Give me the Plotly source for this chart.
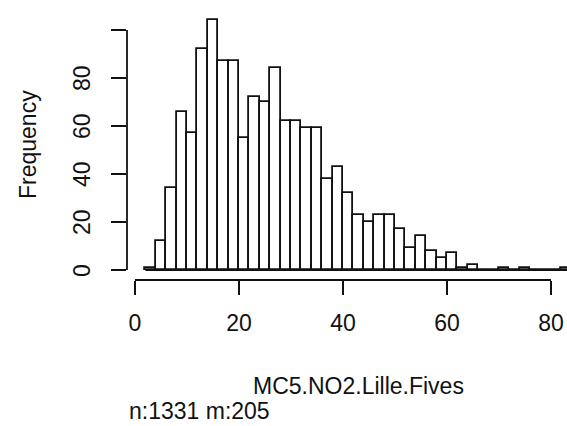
import plotly.graph_objects as go

# Histogram of NO2 concentrations, 2-unit bins
bin_lefts = [2, 4, 6, 8, 10, 12, 14, 16, 18, 20, 22, 24, 26, 28, 30, 32, 34, 36, 38, 40,
             42, 44, 46, 48, 50, 52, 54, 56, 58, 60, 62, 64, 66, 68, 70, 72, 74, 76, 78, 80, 82]
counts = [1, 12, 34, 66, 57, 92, 104, 87, 87, 55, 72, 70, 84, 62, 62, 59, 59, 38, 43, 32,
          23, 20, 23, 23, 17, 9, 14, 8, 5, 7, 1, 2, 0, 0, 1, 0, 1, 0, 0, 0, 1]
bin_width = 2

x_ticks = [0, 20, 40, 60, 80]
y_ticks = [0, 20, 40, 60, 80, 100]
y_labels = ["0", "20", "40", "60", "80"]   # the top tick carries no label

x_title = "MC5.NO2.Lille.Fives"
y_title = "Frequency"
sub_text = "n:1331 m:205"

FONT = "Liberation Sans, Arial, sans-serif"
INK = "#111111"
LW = 1.8
FS = 23

centers = [b + bin_width / 2 for b in bin_lefts]

fig = go.Figure()
fig.add_trace(go.Bar(
    x=centers, y=counts, width=[bin_width] * len(counts),
    marker=dict(color="white", line=dict(color=INK, width=LW)),
    hoverinfo="x+y", showlegend=False,
))
# empty bins still show as a flat line along zero
fig.add_trace(go.Scatter(
    x=[bin_lefts[0], bin_lefts[-1] + bin_width], y=[0, 0], mode="lines",
    line=dict(color=INK, width=LW), hoverinfo="skip", showlegend=False,
))

# vertical (rotated) y tick labels, placed on the y scale
y_label_annots = [
    dict(text=lab, xref="paper", yref="y", x=-0.1023, y=val, xanchor="center",
         yanchor="middle", textangle=-90, showarrow=False, font=dict(size=FS))
    for val, lab in zip(y_ticks, y_labels)
]

fig.update_layout(
    width=567, height=426,
    margin=dict(l=127, r=0, t=10, b=146),
    paper_bgcolor="white", plot_bgcolor="white",
    font=dict(family=FONT, size=FS, color=INK),
    bargap=0,
    xaxis=dict(
        range=[-1.538, 83.077], tickvals=x_ticks, ticks="outside", ticklen=14,
        tickwidth=LW, tickcolor=INK, showgrid=False, zeroline=False, showline=False,
        tickfont=dict(size=FS), ticklabelstandoff=8, automargin=False,
    ),
    yaxis=dict(
        range=[-4.167, 108.33], tickvals=y_ticks, ticks="outside",
        ticklen=15, tickwidth=LW, tickcolor=INK, showgrid=False, zeroline=False,
        showline=False, showticklabels=False, automargin=False,
    ),
    shapes=[
        dict(type="line", xref="x", yref="paper", x0=x_ticks[0], x1=x_ticks[-1], y0=0, y1=0,
             line=dict(color=INK, width=LW)),
        dict(type="line", xref="paper", yref="y", x0=0, x1=0, y0=y_ticks[0], y1=y_ticks[-1],
             line=dict(color=INK, width=LW)),
    ],
    annotations=y_label_annots + [
        dict(text=y_title, xref="paper", yref="paper", x=-0.225, y=0.5, xanchor="center",
             yanchor="middle", textangle=-90, showarrow=False, font=dict(size=FS)),
        dict(text=x_title, xref="x", yref="paper", x=43, y=-0.393, xanchor="center",
             yanchor="middle", showarrow=False, font=dict(size=FS)),
        dict(text=sub_text, xref="paper", yref="paper", x=0.0, y=-0.485, xanchor="left",
             yanchor="middle", showarrow=False, font=dict(size=FS)),
    ],
)

fig.write_html("out.html")
